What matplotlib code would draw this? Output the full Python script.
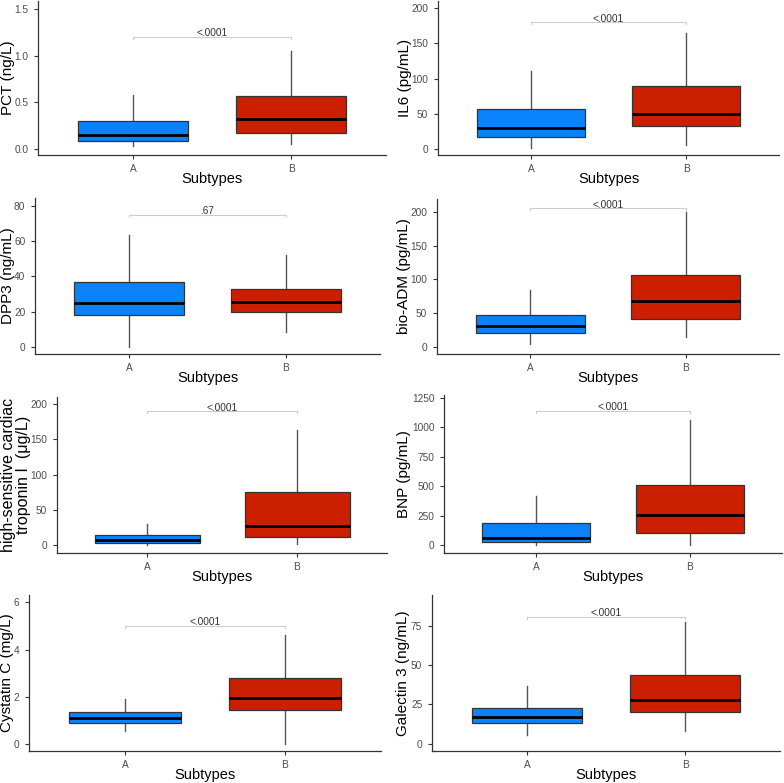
import numpy as np
import matplotlib
matplotlib.use('Agg')
import matplotlib.pyplot as plt

plt.rcParams['font.family'] = ['Liberation Sans', 'DejaVu Sans']

# box stats: (whisker low, Q1, median, Q3, whisker high)
groups = ['A', 'B']
ylabels = ['PCT (ng/L)', 'IL6 (pg/mL)', 'DPP3 (ng/mL)', 'bio-ADM (pg/mL)',
           'high-sensitive cardiac\ntroponin I  (\u03bcg/L)', 'BNP (pg/mL)',
           'Cystatin C (mg/L)', 'Galectin 3 (ng/mL)']
pct_stats = [[0.03, 0.09, 0.15, 0.30, 0.58], [0.05, 0.17, 0.32, 0.57, 1.05]]
il6_stats = [[2, 17, 30, 57, 110], [6, 33, 49, 89, 165]]
dpp3_stats = [[0, 18, 25, 36.5, 63.5], [8.5, 19.5, 25.5, 33, 52]]
adm_stats = [[5, 21, 31, 47, 84], [15, 41, 68, 106, 200]]
trop_stats = [[0, 3, 7, 15, 30], [2, 12, 28, 75, 163]]
bnp_stats = [[0, 25, 65, 185, 415], [0, 105, 255, 510, 1060]]
cys_stats = [[0.55, 0.92, 1.10, 1.35, 1.93], [0.0, 1.47, 1.96, 2.78, 4.62]]
gal_stats = [[5.5, 13, 17, 22.5, 36.5], [8, 20, 28, 44, 77.5]]
all_stats = [pct_stats, il6_stats, dpp3_stats, adm_stats,
             trop_stats, bnp_stats, cys_stats, gal_stats]
pvals = ['<.0001', '<.0001', '.67', '<.0001', '<.0001', '<.0001', '<.0001', '<.0001']
bracket_y = [1.2, 180, 75, 205, 190, 1140, 5.0, 81]
yticks = [[0, 0.5, 1.0, 1.5], [0, 50, 100, 150, 200], [0, 20, 40, 60, 80],
          [0, 50, 100, 150, 200], [0, 50, 100, 150, 200],
          [0, 250, 500, 750, 1000, 1250], [0, 2, 4, 6], [0, 25, 50, 75]]
ytick_fmt = ['%.1f', '%d', '%d', '%d', '%d', '%d', '%d', '%d']
ylims = [(-0.064, 1.585), (-8.5, 210), (-4.1, 84.4), (-10.3, 218.8),
         (-10.9, 210), (-65.5, 1275), (-0.28, 6.3), (-4.7, 94.8)]

fills = ['#0a82fa', '#cc1f00']

# axes rectangles in pixels: left, top, right, bottom
W, H = 784, 783
rects = [(38, 1, 386, 155), (438, 1, 779, 155),
         (35, 198, 380, 354), (437, 199, 779, 354),
         (57, 397, 387, 553), (444, 395, 782, 553),
         (29, 595, 381, 751), (432, 595, 780, 751)]
# x pixel of the y-label centre
ylab_x = [8, 405, 8, 404, 16, 404, 7, 403]

fig = plt.figure(figsize=(W / 100, H / 100), dpi=100)

for i, (l, t, r, b) in enumerate(rects):
    ax = fig.add_axes([l / W, 1 - b / H, (r - l) / W, (b - t) / H])
    stats = []
    for g, s in zip(groups, all_stats[i]):
        stats.append(dict(label=g, whislo=s[0], q1=s[1], med=s[2], q3=s[3], whishi=s[4]))
    bp = ax.bxp(stats, positions=[1, 2], widths=0.7, showfliers=False,
                showcaps=False, patch_artist=True,
                boxprops=dict(edgecolor='#333333', linewidth=0.9),
                whiskerprops=dict(color='#555555', linewidth=1.0),
                medianprops=dict(color='black', linewidth=2.0))
    for patch, c in zip(bp['boxes'], fills):
        patch.set_facecolor(c)
    for w in bp['whiskers']:
        w.set_zorder(1)

    # p-value bracket
    yb = bracket_y[i]
    lo, hi = ylims[i]
    d = (hi - lo) * 0.012
    ax.plot([1, 1, 2, 2], [yb - d, yb, yb, yb - d], color='#cccccc', lw=0.8)
    ax.text(1.5, yb + d * 0.3, pvals[i], ha='center', va='baseline',
            fontsize=7.3, color='#333333')

    ax.set_xlim(0.4, 2.6)
    ax.set_ylim(lo, hi)
    ax.set_yticks(yticks[i])
    ax.set_yticklabels([ytick_fmt[i] % v for v in yticks[i]])
    ax.set_xticks([1, 2])
    ax.set_xticklabels(groups)
    ax.set_xlabel('Subtypes', fontsize=10.5, va='center')
    ax.xaxis.set_label_coords(0.5, -24 / (b - t))
    yfs = 11.5 if '\n' in ylabels[i] else 11
    ax.set_ylabel(ylabels[i], fontsize=yfs, va='center', linespacing=1.0)
    ax.yaxis.set_label_coords((ylab_x[i] - l) / (r - l), 0.5)
    ax.tick_params(axis='y', pad=4)
    ax.tick_params(axis='x', pad=3.5)
    ax.tick_params(labelsize=7.3, labelcolor='#4d4d4d', color='#333333',
                   length=3, width=0.8)
    for side in ['top', 'right']:
        ax.spines[side].set_visible(False)
    for side in ['left', 'bottom']:
        ax.spines[side].set_color('#333333')
        ax.spines[side].set_linewidth(0.9)

plt.savefig('out.png', dpi=100)
